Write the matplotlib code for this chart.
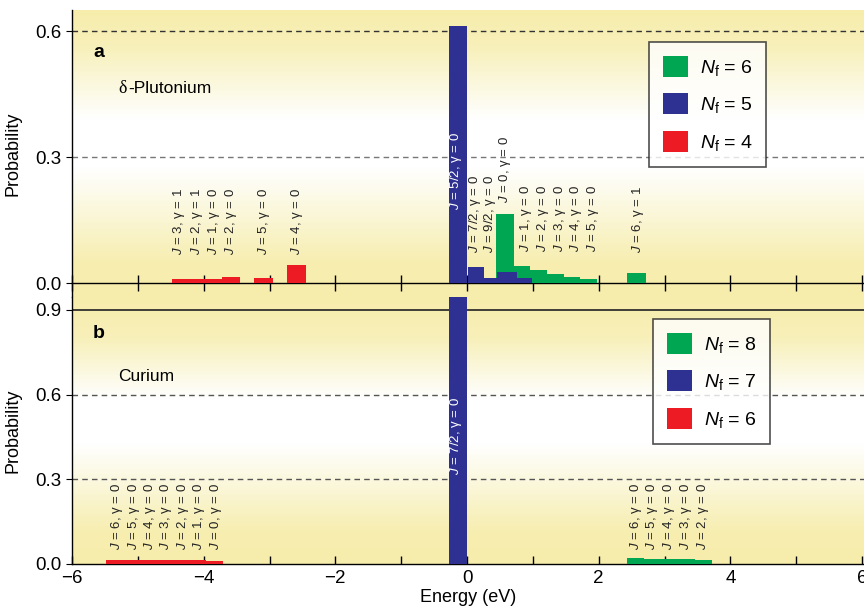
import numpy as np
import matplotlib
matplotlib.use("Agg")
import matplotlib.pyplot as plt
from matplotlib.patches import Patch
from matplotlib.ticker import MultipleLocator, NullFormatter

plt.rcParams['font.family'] = ['Liberation Sans', 'DejaVu Sans']
plt.rcParams['mathtext.fontset'] = 'custom'
plt.rcParams['mathtext.rm'] = 'Liberation Sans'
plt.rcParams['mathtext.it'] = 'Liberation Sans:italic'
plt.rcParams['mathtext.bf'] = 'Liberation Sans:bold'

GREEN = '#00a651'
BLUE = '#2e3192'
RED = '#ed1c24'
YELLOW = np.array([246, 237, 172]) / 255.0

# ---- panel a: delta-plutonium (bin edges in eV, probabilities) ----
pu_red_left = [-4.48, -4.20, -3.98, -3.72, -3.24, -2.74]
pu_red_right = [-4.20, -3.98, -3.72, -3.45, -2.95, -2.45]
pu_red_prob = [0.010, 0.009, 0.009, 0.014, 0.012, 0.044]

pu_blue_left = [-0.27, 0.01, 0.26, 0.46, 0.76]
pu_blue_right = [0.00, 0.26, 0.46, 0.76, 0.99]
pu_blue_prob = [0.612, 0.039, 0.013, 0.027, 0.013]

pu_green_left = [0.44, 0.72, 0.96, 1.21, 1.47, 1.72, 2.43]
pu_green_right = [0.72, 0.96, 1.21, 1.47, 1.72, 1.97, 2.72]
pu_green_prob = [0.164, 0.041, 0.032, 0.021, 0.015, 0.011, 0.025]

pu_red_lbl_x = [-4.37, -4.10, -3.85, -3.58, -3.09, -2.58]
pu_red_lbl = [(3, 1), (2, 1), (1, 0), (2, 0), (5, 0), (4, 0)]
pu_blue_lbl_x = [0.12, 0.35]
pu_blue_lbl = [('7/2', 0), ('9/2', 0)]
pu_green_lbl_x = [0.90, 1.15, 1.41, 1.66, 1.92, 2.59]
pu_green_lbl = [(1, 0), (2, 0), (3, 0), (4, 0), (5, 0), (6, 1)]

# ---- panel b: curium ----
cm_red_edges = [-5.49, -5.24, -4.98, -4.73, -4.48, -4.22, -3.97, -3.71]
cm_red_prob = [0.014, 0.014, 0.015, 0.015, 0.014, 0.013, 0.012]
cm_blue_edges = [-0.27, 0.00]
cm_blue_prob = [0.945]
cm_green_edges = [2.43, 2.69, 2.94, 3.20, 3.46, 3.72]
cm_green_prob = [0.022, 0.019, 0.018, 0.017, 0.015]

cm_red_lbl_x = [-5.31, -5.06, -4.81, -4.57, -4.32, -4.07, -3.81]
cm_red_lbl = [6, 5, 4, 3, 2, 1, 0]
cm_green_lbl_x = [2.56, 2.81, 3.07, 3.32, 3.58]
cm_green_lbl = [6, 5, 4, 3, 2]


def lbl(j, g):
    return r'$J$ = %s, γ = %s' % (j, g)


def gradient_bg(ax, stops_f, stops_w):
    f = np.linspace(0, 1, 300)
    w = np.interp(f, stops_f, stops_w)
    img = 1 - w[:, None] * (1 - YELLOW[None, :])
    img = img[:, None, :]
    ax.imshow(img, extent=[0, 1, 0, 1], transform=ax.transAxes, origin='lower',
              aspect='auto', zorder=0, interpolation='bilinear')


def bars(ax, left, right, prob, color, **kw):
    left = np.array(left)
    right = np.array(right)
    ax.bar(left, prob, width=right - left, align='edge', color=color,
           linewidth=0, zorder=3, **kw)


def legend(ax, labels, anchor):
    handles = [Patch(facecolor=c, edgecolor='none') for c in (GREEN, BLUE, RED)]
    leg = ax.legend(handles, labels, loc='upper left', bbox_to_anchor=anchor,
                    frameon=True, fancybox=False, fontsize=14,
                    handlelength=1.3, handleheight=1.3, handletextpad=0.6,
                    labelspacing=0.8, borderpad=0.7, borderaxespad=0)
    leg.get_frame().set_edgecolor('#222222')
    leg.get_frame().set_linewidth(1.2)
    leg.set_zorder(10)


fig = plt.figure(figsize=(8.64, 6.10), dpi=100)
ax1 = fig.add_axes([72 / 864, 1 - 297 / 610, 1 - 72 / 864, 287 / 610])
ax2 = fig.add_axes([72 / 864, 1 - 564 / 610, 1 - 72 / 864, 267 / 610])

for ax in (ax1, ax2):
    ax.set_xlim(-6, 6.03)
    ax.spines['top'].set_visible(False)
    ax.spines['right'].set_visible(False)
    ax.spines['left'].set_linewidth(1.0)
    ax.tick_params(axis='y', labelsize=13.5, direction='out', length=4, width=0.8)
    ax.set_ylabel('Probability', fontsize=13, labelpad=10)

# ---- panel a ----
ax = ax1
gradient_bg(ax, [0, 0.12, 0.45, 0.62, 0.88, 1], [1, 0.95, 0.0, 0.0, 0.85, 1])
ax.set_ylim(-0.033, 0.65)
ax.set_yticks([0.0, 0.3, 0.6])
ax.set_yticklabels(['0.0', '0.3', '0.6'])
ax.spines['bottom'].set_position(('data', 0))
ax.spines['bottom'].set_linewidth(1.0)
ax.xaxis.set_major_locator(MultipleLocator(1))
ax.xaxis.set_major_formatter(NullFormatter())
ax.tick_params(axis='x', direction='inout', length=11, width=1.0)
for yv, c in ((0.3, '#777777'), (0.6, '#333333')):
    ax.axhline(yv, color=c, linestyle=(0, (4, 3)), linewidth=1.0, zorder=1)
bars(ax, pu_green_left, pu_green_right, pu_green_prob, GREEN)
bars(ax, pu_blue_left, pu_blue_right, pu_blue_prob, BLUE)
bars(ax, pu_red_left, pu_red_right, pu_red_prob, RED)

tkw = dict(rotation=90, ha='center', va='bottom', fontsize=9.5, color='#222222', zorder=5)
for x, (j, g) in zip(pu_red_lbl_x, pu_red_lbl):
    ax.text(x, 0.067, lbl(j, g), **tkw)
for x, (j, g) in zip(pu_blue_lbl_x, pu_blue_lbl):
    ax.text(x, 0.071, lbl(j, g), **tkw)
for x, (j, g) in zip(pu_green_lbl_x, pu_green_lbl):
    ax.text(x, 0.071 if j == 6 else 0.074, lbl(j, g), **tkw)
ax.text(0.58, 0.19, lbl(0, 0), **tkw)
ax.text(-0.16, 0.174, lbl('5/2', 0), **dict(tkw, color='white'))

ax.text(-5.68, 0.548, 'a', fontsize=14, fontweight='bold', va='center')
ax.text(-5.3, 0.464, 'δ', fontsize=13, va='center', family='Liberation Serif')
ax.text(-5.14, 0.464, '-Plutonium', fontsize=12.5, va='center')
legend(ax, [r'$N_{\mathrm{f}}$ = 6', r'$N_{\mathrm{f}}$ = 5', r'$N_{\mathrm{f}}$ = 4'],
       ((649 - 72) / 792, (297 - 42) / 287))

# ---- panel b ----
ax = ax2
gradient_bg(ax, [0, 0.12, 0.45, 0.62, 0.85, 1], [1, 0.95, 0.0, 0.0, 0.85, 1])
ax.set_ylim(0, 0.946)
ax.set_yticks([0.0, 0.3, 0.6, 0.9])
ax.set_yticklabels(['0.0', '0.3', '0.6', '0.9'])
ax.spines['bottom'].set_linewidth(1.0)
ax.xaxis.set_minor_locator(MultipleLocator(1))
ax.set_xticks([-6, -4, -2, 0, 2, 4, 6])
ax.set_xticklabels(['\u22126', '\u22124', '\u22122', '0', '2', '4', '6'])
ax.tick_params(axis='x', which='both', direction='in', length=6, width=1.0,
               labelsize=13.5, pad=4)
ax.set_xlabel('Energy (eV)', fontsize=13, labelpad=2)
ax.axhline(0.9, color='#222222', linewidth=1.2, zorder=2)
for yv in (0.3, 0.6):
    ax.axhline(yv, color='#555555', linestyle=(0, (4, 3)), linewidth=1.0, zorder=1)
bars(ax, cm_red_edges[:-1], cm_red_edges[1:], cm_red_prob, RED)
bars(ax, cm_blue_edges[:-1], cm_blue_edges[1:], cm_blue_prob, BLUE)
bars(ax, cm_green_edges[:-1], cm_green_edges[1:], cm_green_prob, GREEN)

for x, j in zip(cm_red_lbl_x, cm_red_lbl):
    ax.text(x, 0.049, lbl(j, 0), **tkw)
for x, j in zip(cm_green_lbl_x, cm_green_lbl):
    ax.text(x, 0.049, lbl(j, 0), **tkw)
ax.text(-0.16, 0.314, lbl('7/2', 0), **dict(tkw, color='white'))

ax.text(-5.68, 0.815, 'b', fontsize=14, fontweight='bold', va='center')
ax.text(-5.3, 0.664, 'Curium', fontsize=12.5, va='center')
legend(ax, [r'$N_{\mathrm{f}}$ = 8', r'$N_{\mathrm{f}}$ = 7', r'$N_{\mathrm{f}}$ = 6'],
       ((653 - 72) / 792, (564 - 319) / 267))

fig.savefig('out.png', dpi=100)
